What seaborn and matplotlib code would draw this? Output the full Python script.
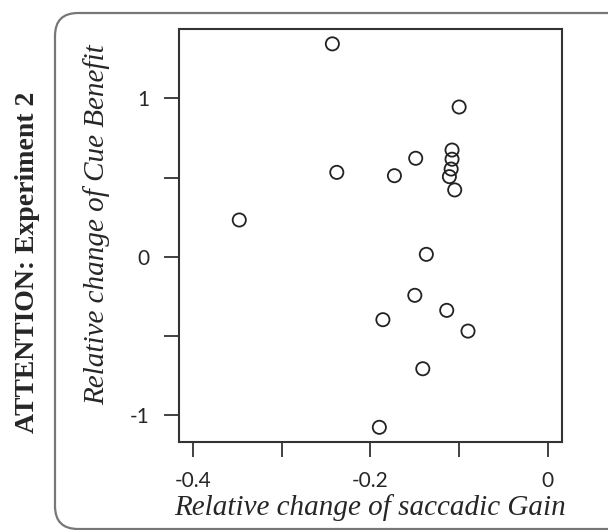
import matplotlib
matplotlib.use("Agg")
import matplotlib.pyplot as plt
from matplotlib.patches import FancyBboxPatch
import seaborn as sns

# relative change of saccadic gain (x) vs relative change of cue benefit (y)
gain_change = [-0.243, -0.100, -0.108, -0.108, -0.109, -0.111, -0.105, -0.149,
               -0.238, -0.173, -0.348, -0.137, -0.150, -0.114, -0.186, -0.090,
               -0.141, -0.190]
cue_change = [1.345, 0.946, 0.674, 0.616, 0.554, 0.506, 0.422, 0.622,
              0.533, 0.512, 0.232, 0.015, -0.244, -0.339, -0.398, -0.470,
              -0.708, -1.078]

x_ticks = [-0.4, -0.3, -0.2, -0.1, 0.0]
x_labels = ["-0.4", "", "-0.2", "", "0"]
y_ticks = [-1.0, -0.5, 0.0, 0.5, 1.0]
y_labels = ["-1", "", "0", "", "1"]

sns.set_style("white")
fig = plt.figure(figsize=(6.08, 5.30), dpi=100)
ax = fig.add_axes([0.2944, 0.1666, 0.6299, 0.7787])

sns.scatterplot(x=gain_change, y=cue_change, ax=ax, marker="o", s=90,
                facecolor="none", edgecolor="#222222", linewidth=1.3)

ax.set_xlim(-0.416, 0.016)
ax.set_ylim(-1.169, 1.439)
ax.set_xticks(x_ticks)
ax.set_xticklabels(x_labels, fontfamily="Lato", fontsize=15)
ax.set_yticks(y_ticks)
ax.set_yticklabels(y_labels, fontfamily="Lato", fontsize=15)
ax.tick_params(bottom=True, left=True, direction="out", length=11, width=1.3,
               color="#333333", pad=10)
for sp in ax.spines.values():
    sp.set_color("#333333")
    sp.set_linewidth(1.5)

ax.set_xlabel("Relative change of saccadic Gain", fontfamily="Liberation Serif",
              style="italic", fontsize=21, labelpad=2)
ax.set_ylabel("Relative change of Cue Benefit", fontfamily="Liberation Serif",
              style="italic", fontsize=21)
ax.yaxis.set_label_coords(-0.180, 0.526)

fig.text(0.045, 0.506, "ATTENTION: Experiment 2", rotation=90, ha="center",
         va="center", fontfamily="Liberation Serif", fontweight="bold", fontsize=20)

# rounded frame round the panel
box = FancyBboxPatch((0.55, 0.01), 6.0, 5.16,
                     boxstyle="round,pad=0,rounding_size=0.23",
                     transform=fig.dpi_scale_trans, fill=False,
                     edgecolor="#777777", linewidth=1.6)
fig.patches.append(box)

fig.savefig("out.png", dpi=100)
